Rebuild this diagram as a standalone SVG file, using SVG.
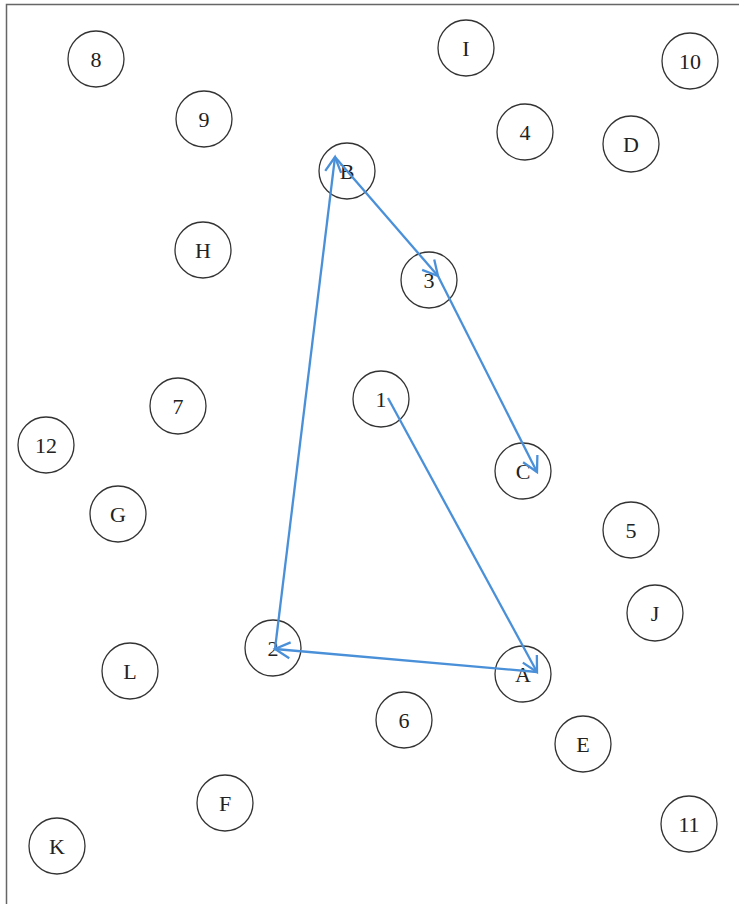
<svg xmlns="http://www.w3.org/2000/svg" width="739" height="904" viewBox="0 0 739 904">
<style>
.n circle{fill:none;stroke:#333;stroke-width:1.3}
.n text{font-family:"Liberation Serif",serif;font-size:22px;fill:#222;text-anchor:middle;dominant-baseline:central}
.e{stroke:#4a90d9;stroke-width:2.3;fill:none}
</style>
<defs>
<marker id="ah" markerUnits="userSpaceOnUse" markerWidth="30" markerHeight="30" viewBox="-20 -15 30 30" refX="0" refY="0" orient="auto">
<path d="M-15,-8 L0,0 L-15,8" fill="none" stroke="#4a90d9" stroke-width="2.3"/>
</marker>
</defs>
<rect width="739" height="904" fill="#fff"/>
<path d="M6.5,904 V4.5 H739" fill="none" stroke="#666" stroke-width="1.5"/>
<g class="n" id="n8"><circle cx="96" cy="59" r="28"/><text x="96" y="59">8</text></g>
<g class="n" id="nI"><circle cx="466" cy="48" r="28"/><text x="466" y="48">I</text></g>
<g class="n" id="n10"><circle cx="690" cy="61" r="28"/><text x="690" y="61">10</text></g>
<g class="n" id="n9"><circle cx="204" cy="119" r="28"/><text x="204" y="119">9</text></g>
<g class="n" id="n4"><circle cx="525" cy="132" r="28"/><text x="525" y="132">4</text></g>
<g class="n" id="nD"><circle cx="631" cy="144" r="28"/><text x="631" y="144">D</text></g>
<g class="n" id="nB"><circle cx="347" cy="171" r="28"/><text x="347" y="171">B</text></g>
<g class="n" id="nH"><circle cx="203" cy="250" r="28"/><text x="203" y="250">H</text></g>
<g class="n" id="n3"><circle cx="429" cy="280" r="28"/><text x="429" y="280">3</text></g>
<g class="n" id="n1"><circle cx="381" cy="399" r="28"/><text x="381" y="399">1</text></g>
<g class="n" id="n7"><circle cx="178" cy="406" r="28"/><text x="178" y="406">7</text></g>
<g class="n" id="n12"><circle cx="46" cy="445" r="28"/><text x="46" y="445">12</text></g>
<g class="n" id="nC"><circle cx="523" cy="471" r="28"/><text x="523" y="471">C</text></g>
<g class="n" id="nG"><circle cx="118" cy="514" r="28"/><text x="118" y="514">G</text></g>
<g class="n" id="n5"><circle cx="631" cy="530" r="28"/><text x="631" y="530">5</text></g>
<g class="n" id="nJ"><circle cx="655" cy="613" r="28"/><text x="655" y="613">J</text></g>
<g class="n" id="n2"><circle cx="273" cy="648" r="28"/><text x="273" y="648">2</text></g>
<g class="n" id="nL"><circle cx="130" cy="671" r="28"/><text x="130" y="671">L</text></g>
<g class="n" id="nA"><circle cx="523" cy="674" r="28"/><text x="523" y="674">A</text></g>
<g class="n" id="n6"><circle cx="404" cy="720" r="28"/><text x="404" y="720">6</text></g>
<g class="n" id="nE"><circle cx="583" cy="744" r="28"/><text x="583" y="744">E</text></g>
<g class="n" id="nF"><circle cx="225" cy="803" r="28"/><text x="225" y="803">F</text></g>
<g class="n" id="n11"><circle cx="689" cy="824" r="28"/><text x="689" y="824">11</text></g>
<g class="n" id="nK"><circle cx="57" cy="846" r="28"/><text x="57" y="846">K</text></g>
<g id="edges">
<line class="e" x1="388" y1="398" x2="537" y2="672" marker-end="url(#ah)"/>
<line class="e" x1="537" y1="672" x2="275" y2="649" marker-end="url(#ah)"/>
<line class="e" x1="275" y1="649" x2="335" y2="157" marker-end="url(#ah)"/>
<line class="e" x1="335" y1="157" x2="438" y2="276" marker-end="url(#ah)"/>
<line class="e" x1="438" y1="276" x2="537" y2="472" marker-end="url(#ah)"/>
</g>
</svg>
